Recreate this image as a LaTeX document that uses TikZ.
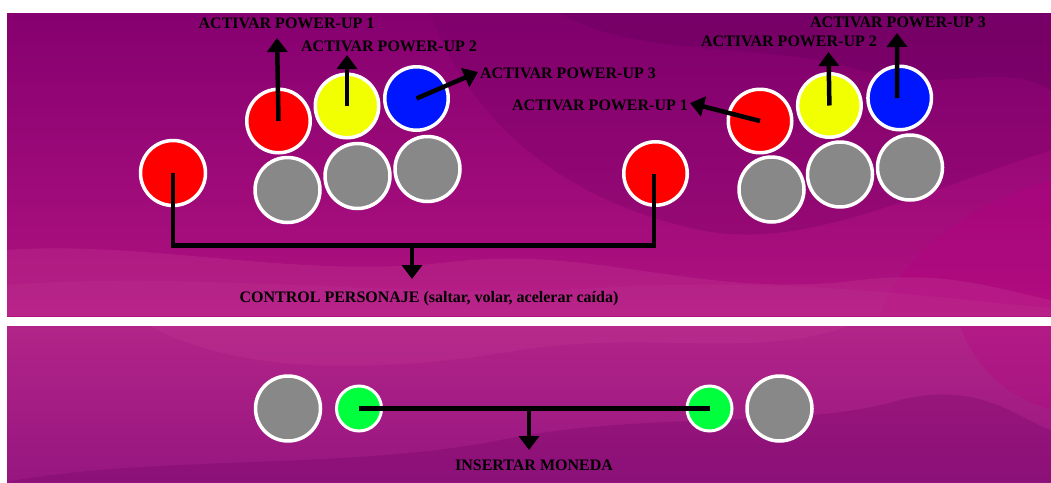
\documentclass[tikz,border=0pt]{standalone}
\usepackage{fontspec}
\setmainfont{Liberation Serif}
\usetikzlibrary{arrows.meta}

% panel colours
\definecolor{panTopA}{RGB}{134,0,112}
\definecolor{panTopB}{RGB}{176,18,128}
\definecolor{panBotA}{RGB}{178,36,136}
\definecolor{panBotB}{RGB}{150,22,128}
\definecolor{deepPurple}{RGB}{108,0,98}
\definecolor{softPink}{RGB}{196,60,148}
\definecolor{hotMagenta}{RGB}{182,0,128}
% button colours
\definecolor{btnRed}{RGB}{255,0,0}
\definecolor{btnYellow}{RGB}{242,255,0}
\definecolor{btnBlue}{RGB}{0,22,255}
\definecolor{btnGray}{RGB}{136,136,136}
\definecolor{btnGreen}{RGB}{0,255,60}

\tikzset{
  button/.style={circle, draw=white, line width=3.5pt, inner sep=0pt,
                 minimum size=63.5pt},
  bigbutton/.style={button, minimum size=65pt},
  coinbutton/.style={button, line width=3pt, minimum size=45pt},
  label/.style={inner sep=0pt, font=\fontsize{16}{19}\selectfont\bfseries},
  wire/.style={line width=4.5pt, black},
  pointer/.style={wire, -{Triangle[width=20pt,length=14pt]}},
}

\begin{document}
\begin{tikzpicture}[x=1pt,y=-1pt]
\useasboundingbox (0,0) rectangle (1051,482);
\fill[white] (0,0) rectangle (1051,482);

% ---- background of the upper panel
\shade[top color=panTopA, bottom color=panTopB] (7,13) rectangle (1051,316);
\begin{scope}
  \clip (7,13) rectangle (1051,316);
  \fill[deepPurple, opacity=0.45]
    (560,13) .. controls (640,60) and (760,40) .. (860,70)
    .. controls (950,95) and (1000,60) .. (1051,90) -- (1051,13) -- cycle;
  \fill[deepPurple, opacity=0.25]
    (430,13) .. controls (470,120) and (560,200) .. (700,230)
    .. controls (800,250) and (900,200) .. (1051,150) -- (1051,13) -- cycle;
  \fill[hotMagenta, opacity=0.35]
    (880,316) .. controls (900,250) and (980,200) .. (1051,180) -- (1051,316) -- cycle;
  \fill[softPink, opacity=0.30]
    (7,250) .. controls (150,240) and (300,280) .. (450,262)
    .. controls (600,245) and (700,300) .. (860,280)
    .. controls (950,270) and (1000,290) .. (1051,300) -- (1051,316) -- (7,316) -- cycle;
  \fill[softPink, opacity=0.20]
    (7,285) .. controls (200,270) and (400,300) .. (600,288)
    .. controls (800,276) and (950,300) .. (1051,308) -- (1051,316) -- (7,316) -- cycle;
\end{scope}

% ---- background of the lower panel
\shade[top color=panBotA, bottom color=panBotB] (7,326) rectangle (1051,482);
\begin{scope}
  \clip (7,326) rectangle (1051,482);
  \fill[softPink, opacity=0.25]
    (150,326) .. controls (250,380) and (400,370) .. (520,350)
    .. controls (650,330) and (750,360) .. (850,326) -- cycle;
  \fill[deepPurple, opacity=0.25]
    (7,482) .. controls (150,455) and (350,470) .. (500,440)
    .. controls (650,410) and (800,430) .. (900,400)
    .. controls (980,380) and (1020,420) .. (1051,430) -- (1051,482) -- cycle;
  \fill[hotMagenta, opacity=0.25]
    (960,326) .. controls (980,380) and (1020,400) .. (1051,410) -- (1051,326) -- cycle;
\end{scope}

% ---- left cluster
\node[bigbutton, fill=btnRed]  (lone1) at (173,173) {};
\node[button, fill=btnRed]     (red1)  at (278.5,121) {};
\node[button, fill=btnYellow]  (yel1)  at (347,106) {};
\node[button, fill=btnBlue]    (blu1)  at (416.5,98.5) {};
\node[bigbutton, fill=btnGray] (gra1)  at (287.5,190) {};
\node[bigbutton, fill=btnGray] (grb1)  at (357.5,176) {};
\node[bigbutton, fill=btnGray] (grc1)  at (427.5,169) {};

% ---- right cluster
\node[button, fill=btnRed]     (lone2) at (655.5,173.5) {};
\node[button, fill=btnRed]     (red2)  at (760,121) {};
\node[button, fill=btnYellow]  (yel2)  at (829.4,105.5) {};
\node[button, fill=btnBlue]    (blu2)  at (899.7,98) {};
\node[bigbutton, fill=btnGray] (gra2)  at (771.5,189.5) {};
\node[bigbutton, fill=btnGray] (grb2)  at (840,174.5) {};
\node[bigbutton, fill=btnGray] (grc2)  at (910,167.5) {};

% ---- coin row
\node[bigbutton, fill=btnGray]   (startL) at (288,408.5) {};
\node[coinbutton, fill=btnGreen] (coinL)  at (359,408.5) {};
\node[coinbutton, fill=btnGreen] (coinR)  at (709.5,408.5) {};
\node[bigbutton, fill=btnGray]   (startR) at (779.5,408.5) {};

% ---- labels
\node[label] (pu1a) at (286.5,23) {ACTIVAR POWER-UP 1};
\node[label] (pu2a) at (389,46)   {ACTIVAR POWER-UP 2};
\node[label] (pu3a) at (568,73)   {ACTIVAR POWER-UP 3};
\node[label] (pu1b) at (600,105)  {ACTIVAR POWER-UP 1};
\node[label] (pu2b) at (789,41)   {ACTIVAR POWER-UP 2};
\node[label] (pu3b) at (898,22)   {ACTIVAR POWER-UP 3};
\node[label] (ctrl) at (429,298.5) {CONTROL PERSONAJE (saltar, volar, acelerar caída)};
\node[label] (coin) at (534,465)  {INSERTAR MONEDA};

% ---- arrow tips and junctions
\coordinate (tip1a) at (277,38);
\coordinate (tip2a) at (347,55);
\coordinate (tip3a) at (478,72);
\coordinate (tip1b) at (690,103);
\coordinate (tip2b) at (828.5,52);
\coordinate (tip3b) at (897,33);
\coordinate (joinTop) at (412,245.5);
\coordinate (tipCtrl) at (412,279);
\coordinate (joinCoin) at (529,409);
\coordinate (tipCoin) at (529,450);

% ---- power-up pointers
\draw[pointer] (red1.center) -- (tip1a);
\draw[pointer] (yel1.center) -- (tip2a);
\draw[pointer] (blu1.center) -- (tip3a);
\draw[pointer] (red2.center) -- (tip1b);
\draw[pointer] (yel2.center) -- (tip2b);
\draw[pointer] ([xshift=-2.5pt]blu2.center) -- (tip3b);

% ---- character control bracket
\draw[wire] (lone1.center) |- (joinTop) -| ([xshift=-1.5pt]lone2.center);
\draw[pointer] (joinTop) -- (tipCtrl);

% ---- coin bracket
\draw[wire] (coinL.center) -- (coinR.center);
\draw[pointer] (joinCoin) -- (tipCoin);
\end{tikzpicture}
\end{document}
